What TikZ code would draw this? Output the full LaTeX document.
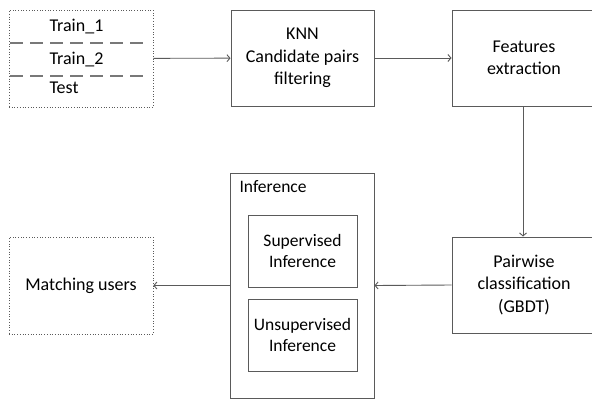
\documentclass[tikz,border=0pt]{standalone}
\usepackage{fontspec}
\setmainfont{Carlito}
\usetikzlibrary{arrows.meta}
\definecolor{linegray}{RGB}{90,90,90}
\definecolor{dashgray}{RGB}{120,120,120}

\begin{document}
\begin{tikzpicture}[x=1pt,y=-1pt,
    font=\fontsize{18}{22.5}\selectfont,
    box/.style={draw=linegray,line width=1pt,align=center,inner sep=0pt},
    dotbox/.style={draw=linegray,line width=0.7pt,dotted,align=center,inner sep=0pt},
    small/.style={font=\fontsize{17.5}{20.5}\selectfont},
    link/.style={draw=linegray,line width=0.9pt,-{Straight Barb[length=3pt,width=7pt]}}]
    \useasboundingbox (0,0) rectangle (592,399);
    % inputs
    \node [dotbox,minimum width=144pt,minimum height=97pt] (data) at (81,58.5) {};
    \node [anchor=west] (train1) at (46,27) {Train\_1};
    \node [anchor=west] (train2) at (46,60) {Train\_2};
    \node [anchor=west] (test) at (46,88) {Test};
    \draw [dashgray,line width=1.8pt,dash pattern=on 13pt off 7pt] (10,43) -- (150,43);
    \draw [dashgray,line width=1.8pt,dash pattern=on 13pt off 7pt] (10,76) -- (150,76);
    % pipeline
    \node [box,minimum width=143pt,minimum height=96pt] (knn) at (302.5,58) {KNN\\Candidate pairs\\filtering};
    \node [box,minimum width=144pt,minimum height=96pt] (feat) at (524,58) {Features\\extraction};
    \node [box,minimum width=144pt,minimum height=96pt] (pair) at (524,285) {Pairwise\\classification\\(GBDT)};
    \node [box,minimum width=144pt,minimum height=225pt] (infer) at (302,285.5) {};
    \node [small,anchor=north west] (inferlabel) at (236,177) {Inference};
    \node [box,small,minimum width=109pt,minimum height=72pt] (sup) at (302.5,251) {Supervised\\Inference};
    \node [box,small,minimum width=109pt,minimum height=72pt] (unsup) at (302.5,335) {Unsupervised\\Inference};
    \node [dotbox,minimum width=144pt,minimum height=97pt] (match) at (81,285.5) {Matching users};
    % connectors
    \draw [link] (data) -- (knn);
    \draw [link] (knn) -- (feat);
    \draw [link] (feat.south -| 523,0) -- (pair.north -| 523,0);
    \draw [link] (pair.west) -- (infer.east);
    \draw [link] (infer.west) -- (match.east);
\end{tikzpicture}
\end{document}
